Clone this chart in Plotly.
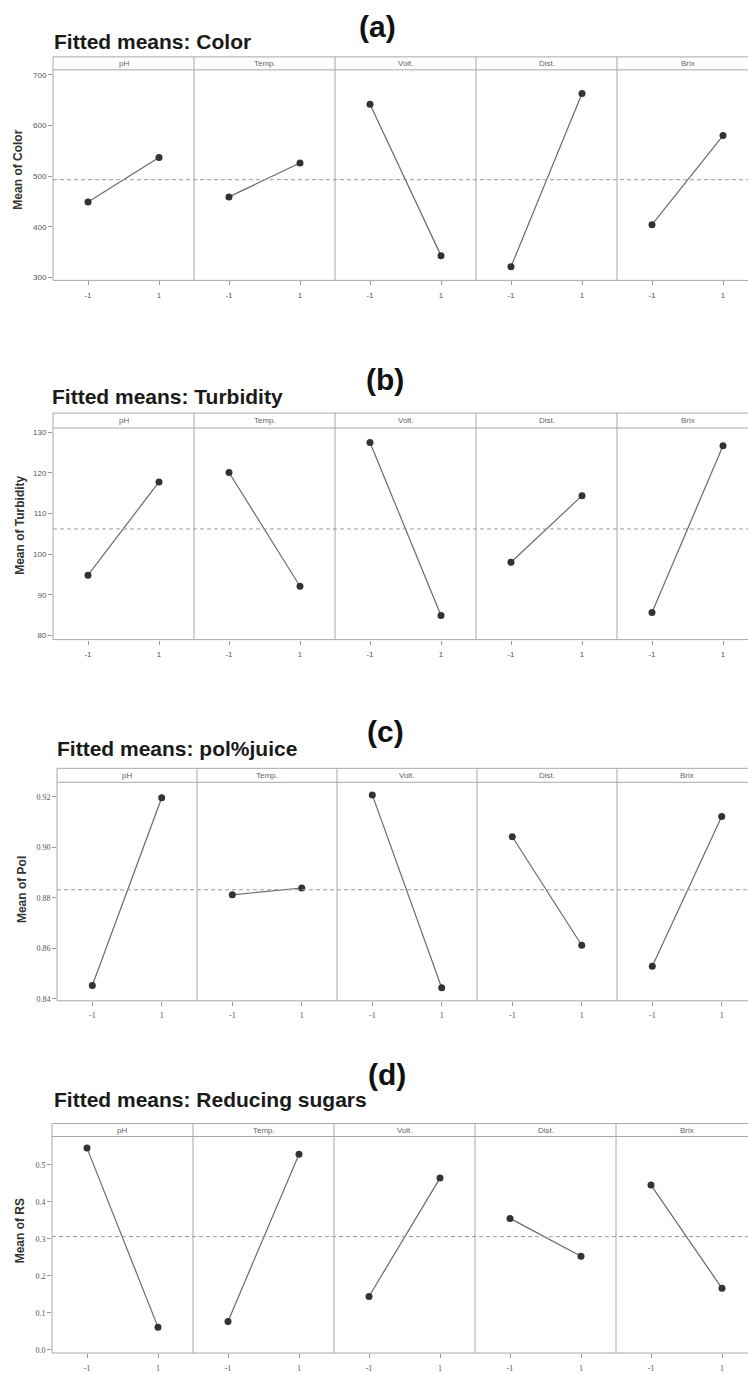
import plotly.graph_objects as go

W, H = 748, 1374

# ---------------- data ----------------
factors = ["pH", "Temp.", "Volt.", "Dist.", "Brix"]
levels = [-1, 1]
levels_text = ["-1", "1"]

color_means = [[449, 537], [459, 526], [642, 343], [321, 663], [404, 580]]
turbidity_means = [[94.8, 117.8], [120.1, 92.1], [127.5, 84.9], [98.0, 114.4], [85.6, 126.7]]
pol_means = [[0.8453, 0.9197], [0.8812, 0.8839], [0.9208, 0.8444], [0.9042, 0.8612], [0.8529, 0.9122]]
rs_means = [[0.545, 0.061], [0.0765, 0.5286], [0.144, 0.464], [0.355, 0.2526], [0.445, 0.166]]

grand_means = [493, 106.2, 0.8832, 0.3058]

panel_letters = ["(a)", "(b)", "(c)", "(d)"]
titles = ["Fitted means: Color", "Fitted means: Turbidity",
          "Fitted means: pol%juice", "Fitted means: Reducing sugars"]
ylabels = ["Mean of Color", "Mean of Turbidity", "Mean of Pol", "Mean of RS"]
yticks = [[300, 400, 500, 600, 700],
          [80, 90, 100, 110, 120, 130],
          [0.84, 0.86, 0.88, 0.90, 0.92],
          [0.0, 0.1, 0.2, 0.3, 0.4, 0.5]]
ytick_fmt = ["d", "d", ".2f", ".1f"]
yranges = [[294.1, 709.9], [78.94, 131.06], [0.8392, 0.9258], [-0.009, 0.5764]]
series = [color_means, turbidity_means, pol_means, rs_means]

# ---------------- layout geometry (pixels) ----------------
rows = [
    dict(left=53, w=141, unit=35.5, strip_top=57, strip_bot=70, bottom=281,
         title_x=52, title_y=42, letter_x=377, letter_y=27, ylab_x=18, ylab_y=170,
         tickfont="Liberation Sans"),
    dict(left=53, w=141, unit=35.5, strip_top=414, strip_bot=429, bottom=641,
         title_x=50, title_y=397, letter_x=385, letter_y=380, ylab_x=20, ylab_y=527,
         tickfont="Liberation Sans"),
    dict(left=57, w=140, unit=34.7, strip_top=770, strip_bot=784, bottom=1003,
         title_x=55, title_y=750, letter_x=386, letter_y=733, ylab_x=22, ylab_y=892,
         tickfont="Liberation Serif"),
    dict(left=52, w=141, unit=35.5, strip_top=1126, strip_bot=1139, bottom=1356,
         title_x=52, title_y=1102, letter_x=387, letter_y=1077, ylab_x=20, ylab_y=1234,
         tickfont="Liberation Serif"),
]

def fx(x):
    return x / W

def fy(y):
    return 1 - y / H

FRAME = "#a8a8a8"
TXT = "#555555"

fig = go.Figure()
layout = dict(width=W, height=H, margin=dict(l=0, r=0, t=0, b=0),
              paper_bgcolor="white", plot_bgcolor="white", showlegend=False)
shapes = []
annotations = []

for r, g in enumerate(rows):
    data = series[r]
    for c in range(5):
        n = r * 5 + c + 1
        xa = "xaxis" if n == 1 else f"xaxis{n}"
        ya = "yaxis" if n == 1 else f"yaxis{n}"
        xr = "x" if n == 1 else f"x{n}"
        yr = "y" if n == 1 else f"y{n}"
        x0 = g["left"] + c * g["w"]
        x1 = min(x0 + g["w"], W)
        cx = x0 + g["w"] / 2
        u = g["unit"]
        layout[xa] = dict(domain=[fx(x0), fx(x1)], anchor=yr,
                          range=[-(cx - x0) / u, (x1 - cx) / u],
                          tickvals=levels, ticktext=levels_text,
                          ticks="outside", ticklen=4, tickcolor="#999999",
                          tickfont=dict(family=g["tickfont"], size=8, color=TXT),
                          showgrid=False, zeroline=False, showline=False,
                          ticklabelstandoff=3, fixedrange=True)
        layout[ya] = dict(domain=[fy(g["bottom"]), fy(g["strip_bot"])], anchor=xr,
                          range=yranges[r], showgrid=False, zeroline=False,
                          showline=False, fixedrange=True,
                          tickvals=yticks[r] if c == 0 else [],
                          tickformat=ytick_fmt[r],
                          ticks="outside" if c == 0 else "",
                          ticklen=4, tickcolor="#999999",
                          showticklabels=(c == 0),
                          tickfont=dict(family=g["tickfont"], size=8, color=TXT))
        fig.add_trace(go.Scatter(x=levels, y=data[c], xaxis=xr, yaxis=yr,
                                 mode="lines+markers",
                                 line=dict(color="#6a6a6a", width=1.2),
                                 marker=dict(color="#333333", size=7),
                                 hoverinfo="skip"))
        # strip label
        annotations.append(dict(x=fx(cx), y=fy((g["strip_top"] + g["strip_bot"]) / 2),
                                xref="paper", yref="paper", text=factors[c],
                                showarrow=False, xanchor="center", yanchor="middle",
                                font=dict(family="Liberation Sans", size=8, color="#666666")))
        # vertical divider / left border
        shapes.append(dict(type="line", xref="paper", yref="paper",
                           x0=fx(x0), x1=fx(x0), y0=fy(g["strip_top"]), y1=fy(g["bottom"]),
                           line=dict(color=FRAME, width=1)))
    # horizontal frame lines
    for yy in (g["strip_top"], g["strip_bot"], g["bottom"]):
        shapes.append(dict(type="line", xref="paper", yref="paper",
                           x0=fx(g["left"]), x1=1, y0=fy(yy), y1=fy(yy),
                           line=dict(color=FRAME, width=1)))
    # grand mean dashed reference line
    first_y = "y" if r == 0 else f"y{r * 5 + 1}"
    shapes.append(dict(type="line", xref="paper", yref=first_y,
                       x0=fx(g["left"]), x1=1, y0=grand_means[r], y1=grand_means[r],
                       line=dict(color="#9a9a9a", width=1, dash="4px,3px")))
    # title
    annotations.append(dict(x=fx(g["title_x"]), y=fy(g["title_y"]), xref="paper", yref="paper",
                            text=f"<b>{titles[r]}</b>", showarrow=False,
                            xanchor="left", yanchor="middle",
                            font=dict(family="Liberation Sans", size=21, color="#1a1a1a")))
    # panel letter
    annotations.append(dict(x=fx(g["letter_x"]), y=fy(g["letter_y"]), xref="paper", yref="paper",
                            text=f"<b>{panel_letters[r]}</b>", showarrow=False,
                            xanchor="center", yanchor="middle",
                            font=dict(family="Liberation Sans", size=30, color="#111111")))
    # y-axis title
    annotations.append(dict(x=fx(g["ylab_x"]), y=fy(g["ylab_y"]), xref="paper", yref="paper",
                            text=f"<b>{ylabels[r]}</b>", showarrow=False, textangle=-90,
                            xanchor="center", yanchor="middle",
                            font=dict(family="Liberation Sans", size=12, color="#333333")))

layout["shapes"] = shapes
layout["annotations"] = annotations
fig.update_layout(**layout)
fig.write_html("out.html")
